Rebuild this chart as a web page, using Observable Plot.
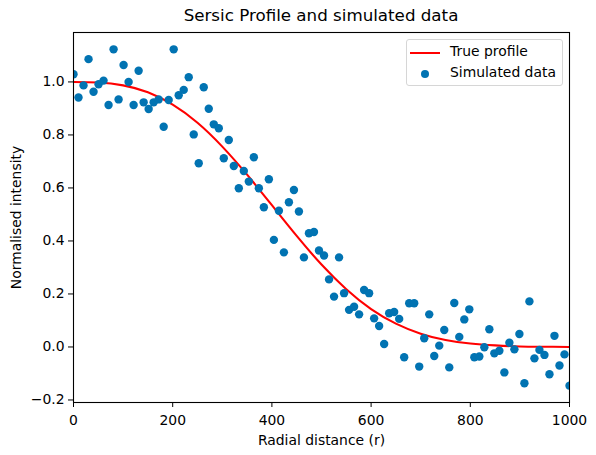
<!DOCTYPE html>
<html>
<head>
<meta charset="utf-8">
<script src="https://cdn.jsdelivr.net/npm/d3@7"></script>
<script src="https://cdn.jsdelivr.net/npm/@observablehq/plot@0.6"></script>
<style>
  html, body { margin: 0; padding: 0; background: #fff; }
  #wrap { position: relative; width: 596px; height: 455px; font-family: "DejaVu Sans", sans-serif; }
  #title { position: absolute; left: 73px; width: 496px; top: 5px; text-align: center; font-size: 16.7px; color: #000; }
  #legend { position: absolute; left: 406px; top: 39px; width: 155px; height: 45px; border: 1px solid #d6d6d6; border-radius: 3px; background: rgba(255,255,255,0.8); font-size: 13.9px; }
  .row { position: absolute; left: 0; height: 20px; width: 100%; }
  .row span.t { position: absolute; left: 43px; top: 1px; white-space: nowrap; }
  .line { position: absolute; left: 3px; width: 30px; height: 2px; background: #ff0000; top: 10px; }
  .dot { position: absolute; left: 14px; top: 7px; width: 8.4px; height: 8.4px; border-radius: 50%; background: #0173b2; }
</style>
</head>
<body>
<div id="wrap">
  <div id="chart"></div>
  <div id="title">Sersic Profile and simulated data</div>
  <div id="legend">
    <div class="row" style="top:2px"><div class="line"></div><span class="t">True profile</span></div>
    <div class="row" style="top:23px"><div class="dot"></div><span class="t">Simulated data</span></div>
  </div>
</div>
<script>
// Simulated data: radial distance and normalised intensity
const radius = [
  0, 10.1, 20.2, 30.3, 40.4, 50.5, 60.6, 70.7, 80.8, 90.9,
  101.0, 111.1, 121.2, 131.3, 141.4, 151.5, 161.6, 171.7, 181.8, 191.9,
  202.0, 212.1, 222.2, 232.3, 242.4, 252.5, 262.6, 272.7, 282.8, 292.9,
  303.0, 313.1, 323.2, 333.3, 343.4, 353.5, 363.6, 373.7, 383.8, 393.9,
  404.0, 414.1, 424.2, 434.3, 444.4, 454.5, 464.6, 474.7, 484.8, 494.9,
  505.1, 515.2, 525.3, 535.4, 545.5, 555.6, 565.7, 575.8, 585.9, 596.0,
  606.1, 616.2, 626.3, 636.4, 646.5, 656.6, 666.7, 676.8, 686.9, 697.0,
  707.1, 717.2, 727.3, 737.4, 747.5, 757.6, 767.7, 777.8, 787.9, 798.0,
  808.1, 818.2, 828.3, 838.4, 848.5, 858.6, 868.7, 878.8, 888.9, 899.0,
  909.1, 919.2, 929.3, 939.4, 949.5, 959.6, 969.7, 979.8, 989.9, 1000
];
const intensity = [
  1.029, 0.941, 0.987, 1.086, 0.963, 0.991, 1.005, 0.913, 1.123, 0.934,
  1.064, 1.000, 0.913, 1.042, 0.923, 0.898, 0.923, 0.934, 0.831, 0.932,
  1.123, 0.950, 0.970, 1.018, 0.802, 0.693, 0.980, 0.899, 0.840, 0.825,
  0.712, 0.781, 0.683, 0.599, 0.664, 0.624, 0.716, 0.599, 0.527, 0.633,
  0.404, 0.514, 0.357, 0.546, 0.592, 0.511, 0.338, 0.429, 0.434, 0.364,
  0.345, 0.255, 0.190, 0.338, 0.203, 0.140, 0.152, 0.123, 0.215, 0.203,
  0.108, 0.079, 0.011, 0.127, 0.132, 0.106, -0.039, 0.165, 0.165, -0.074,
  0.033, 0.123, -0.034, 0.005, 0.064, -0.077, 0.166, 0.038, 0.104, 0.142,
  -0.039, -0.036, -0.001, 0.067, -0.024, -0.014, -0.096, 0.016, -0.009, 0.049,
  -0.137, 0.172, -0.043, -0.011, -0.030, -0.103, 0.042, -0.070, -0.028, -0.146
];
// True profile
const profileR = [0, 50, 100, 150, 200, 250, 300, 350, 400, 450, 500, 550, 600, 650, 700, 750, 800, 850, 900, 950, 1000];
const profileI = [1.000, 0.998, 0.987, 0.961, 0.914, 0.846, 0.756, 0.650, 0.535, 0.419, 0.311, 0.218, 0.143, 0.088, 0.050, 0.026, 0.013, 0.006, 0.002, 0.001, 0.000];

const xTicks = [0, 200, 400, 600, 800, 1000];
const yTicks = [-0.2, 0.0, 0.2, 0.4, 0.6, 0.8, 1.0];

const points = radius.map((r, i) => ({r, v: intensity[i]}));
const curve = profileR.map((r, i) => ({r, v: profileI[i]}));

const plot = Plot.plot({
  width: 596,
  height: 455,
  marginLeft: 73,
  marginRight: 27,
  marginTop: 32,
  marginBottom: 53,
  style: {fontFamily: "DejaVu Sans, sans-serif", fontSize: "13.9px", color: "#000", background: "#fff"},
  x: {domain: [0, 1000]},
  y: {domain: [-0.2095, 1.1865]},
  marks: [
    Plot.line(curve, {x: "r", y: "v", stroke: "#ff0000", strokeWidth: 2.1, curve: "natural", clip: true}),
    Plot.dot(points, {x: "r", y: "v", r: 4.2, fill: "#0173b2", stroke: "none", clip: true}),
    Plot.frame({stroke: "#000", strokeWidth: 1.1}),
    Plot.axisX({ticks: xTicks, tickFormat: d => String(d), tickSize: 5, tickPadding: 8, label: "Radial distance (r)", labelAnchor: "center", labelArrow: "none", labelOffset: 42, fontSize: 13.9}),
    Plot.axisY({ticks: yTicks, tickFormat: d3.format(".1f"), tickSize: 5, tickPadding: 4, label: "Normalised intensity", labelAnchor: "center", labelArrow: "none", labelOffset: 62, fontSize: 13.9})
  ]
});
document.getElementById("chart").appendChild(plot);
</script>
</body>
</html>
